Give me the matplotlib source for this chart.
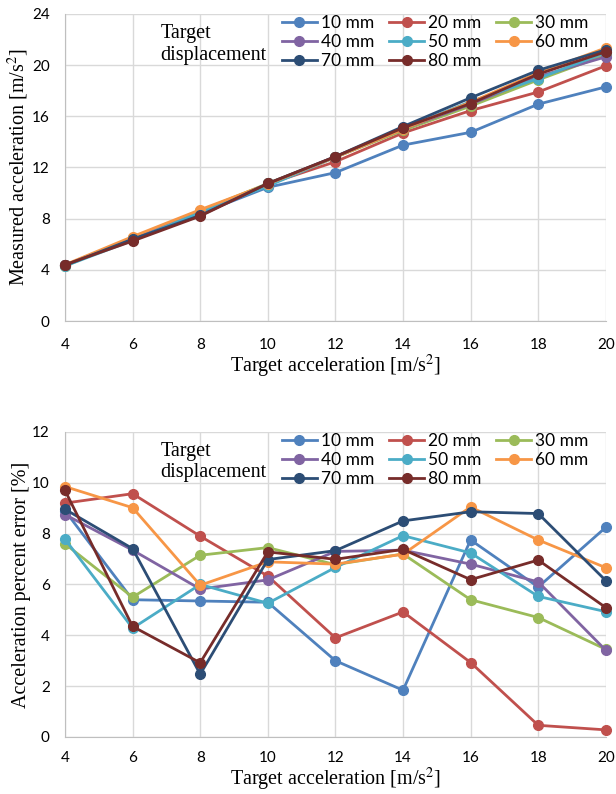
import numpy as np
import matplotlib
matplotlib.use('Agg')
import matplotlib.pyplot as plt

# 数据
target_acc = [4, 6, 8, 10, 12, 14, 16, 18, 20]
labels = ['10 mm', '20 mm', '30 mm', '40 mm', '50 mm', '60 mm', '70 mm', '80 mm']
colors = ['#4F81BD', '#C0504D', '#9BBB59', '#8064A2', '#4BACC6', '#F79646', '#2C4D75', '#772C2A']

measured_10 = [4.35, 6.4, 8.4, 10.45, 11.6, 13.75, 14.75, 16.95, 18.3]
measured_20 = [4.35, 6.5, 8.6, 10.7, 12.45, 14.7, 16.45, 17.9, 19.95]
measured_30 = [4.3, 6.45, 8.6, 10.75, 12.8, 14.9, 16.8, 18.85, 20.8]
measured_40 = [4.35, 6.4, 8.5, 10.65, 12.85, 15.0, 16.95, 19.1, 20.65]
measured_50 = [4.3, 6.3, 8.5, 10.55, 12.8, 15.05, 17.15, 18.95, 21.0]
measured_60 = [4.4, 6.6, 8.7, 10.7, 12.8, 15.0, 17.1, 19.4, 21.35]
measured_70 = [4.35, 6.4, 8.25, 10.75, 12.85, 15.2, 17.45, 19.6, 21.2]
measured_80 = [4.4, 6.25, 8.2, 10.75, 12.85, 15.1, 17.0, 19.3, 21.05]

error_10 = [8.9, 5.4, 5.35, 5.3, 3.0, 1.84, 7.75, 5.9, 8.25]
error_20 = [9.2, 9.57, 7.9, 6.33, 3.9, 4.92, 2.93, 0.46, 0.28]
error_30 = [7.6, 5.5, 7.15, 7.45, 6.78, 7.2, 5.4, 4.7, 3.45]
error_40 = [8.75, 7.35, 5.82, 6.18, 7.3, 7.35, 6.8, 6.1, 3.41]
error_50 = [7.78, 4.28, 6.0, 5.26, 6.67, 7.92, 7.24, 5.53, 4.93]
error_60 = [9.85, 9.02, 5.97, 6.89, 6.8, 7.19, 9.05, 7.75, 6.66]
error_70 = [8.96, 7.41, 2.47, 6.98, 7.33, 8.5, 8.86, 8.79, 6.15]
error_80 = [9.7, 4.35, 2.92, 7.28, 6.99, 7.38, 6.19, 6.96, 5.09]

measured_all = [measured_10, measured_20, measured_30, measured_40,
                measured_50, measured_60, measured_70, measured_80]
error_all = [error_10, error_20, error_30, error_40,
             error_50, error_60, error_70, error_80]

serif = ['Liberation Serif', 'DejaVu Serif']
sans = ['Lato', 'Liberation Sans', 'DejaVu Sans']

# 图例按行排列 (10 20 30 / 40 50 60 / 70 80)
legend_order = [0, 3, 6, 1, 4, 7, 2, 5]


def draw_panel(ax, series, ymax, ystep, ylabel, xpad):
    lines = []
    for s, c, lab in zip(series, colors, labels):
        l, = ax.plot(target_acc, s, marker='o', markersize=7, color=c, linewidth=2,
                     label=lab, clip_on=False, zorder=3)
        lines.append(l)
    ax.set_xlim(4, 20)
    ax.set_ylim(0, ymax)
    ax.set_xticks(target_acc)
    ax.set_yticks(np.arange(0, ymax + 1, ystep))
    ax.grid(True, color='#d9d9d9', linewidth=1)
    ax.set_axisbelow(True)
    for side in ['top', 'right']:
        ax.spines[side].set_visible(False)
    for side in ['left', 'bottom']:
        ax.spines[side].set_color('#bfbfbf')
    ax.tick_params(length=0, labelsize=11)
    ax.tick_params(axis='x', pad=xpad)
    ax.tick_params(axis='y', pad=11)
    for t in ax.get_xticklabels() + ax.get_yticklabels():
        t.set_family(sans)
    ax.set_xlabel('Target acceleration [m/s$^2$]', fontsize=14.5, family=serif, labelpad=1)
    ax.set_ylabel(ylabel, fontsize=14.5, family=serif, labelpad=1)
    ax.text(0.177, 0.968, 'Target\ndisplacement', transform=ax.transAxes, fontsize=14.5,
            family=serif, va='top', ha='left', linespacing=1.2)
    ax.legend([lines[i] for i in legend_order], [labels[i] for i in legend_order],
              ncol=3, loc='upper left', bbox_to_anchor=(0.382, 1.03), frameon=False,
              prop={'family': sans, 'size': 12.5}, handlelength=2.0, handletextpad=0.25,
              columnspacing=0.85, labelspacing=0.17, borderaxespad=0.2)


plt.rcParams['mathtext.fontset'] = 'stix'
fig = plt.figure(figsize=(6.16, 7.94), dpi=100)
ax1 = fig.add_axes([0.1055, 0.5957, 0.878, 0.3867])
ax2 = fig.add_axes([0.1055, 0.0718, 0.878, 0.3842])

draw_panel(ax1, measured_all, 24, 4, 'Measured acceleration [m/s$^2$]', 12)
draw_panel(ax2, error_all, 12, 2, 'Acceleration percent error [%]', 10)

fig.savefig('out.png', dpi=100)
